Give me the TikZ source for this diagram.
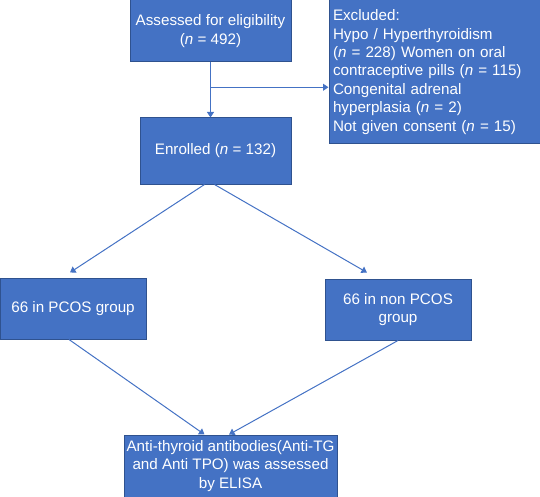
\documentclass[tikz,border=0pt]{standalone}
\usepackage{fontspec}
\setmainfont{Liberation Sans}
\usetikzlibrary{arrows.meta,calc}
\definecolor{boxfill}{HTML}{4472C4}
\definecolor{boxline}{HTML}{2F528F}
\begin{document}
\begin{tikzpicture}[x=1pt,y=-1pt,every node/.style={font=\fontsize{15.2}{18.4}\selectfont,text=white},
  blk/.style={draw=boxline,fill=boxfill,line width=1pt,inner sep=0pt,align=center},
  link/.style={draw=boxfill,line width=1pt,-{Triangle[width=7pt,length=5.5pt]}}]
\useasboundingbox (0,0) rectangle (540,497);
\node[blk,minimum width=161,minimum height=62] (assess) at (210.5,31) {Assessed for eligibility\\(\textit{n} = 492)};
\node[blk,minimum width=211,minimum height=144,text width=203,align=left] (excl) at (434.5,72) {Excluded:\\Hypo / Hyperthyroidism\\(\textit{n} = 228) Women on oral\\contraceptive pills (\textit{n} = 115)\\Congenital adrenal\\hyperplasia (\textit{n} = 2)\\Not given consent (\textit{n} = 15)};
\node[blk,minimum width=151,minimum height=66] (enr) at (215.5,151) {Enrolled (\textit{n} = 132)};
\node[blk,minimum width=146,minimum height=61] (pcos) at (73,308.5) {66 in PCOS group};
\node[blk,minimum width=146,minimum height=61] (nonpcos) at (398,309.5) {66 in non PCOS\\group};
\node[blk,minimum width=213,minimum height=62] (elisa) at (230.5,466) {Anti-thyroid antibodies(Anti-TG\\and Anti TPO) was assessed\\by ELISA};
% flow
\draw[link] (assess.south) -- (assess.south |- enr.north);
\coordinate (split) at ($(assess.south)!0.45!(assess.south |- enr.north)$);
\draw[link] (split) -- (split -| excl.west);
\draw[link] ([xshift=-11pt]enr.south) -- ([xshift=-3pt,yshift=5pt]pcos.north);
\draw[link] ([xshift=-1pt]enr.south) -- ([xshift=-31pt,yshift=6pt]nonpcos.north);
\draw[link] ([xshift=-4pt]pcos.south) -- ([xshift=-26pt]elisa.north);
\draw[link] (nonpcos.south) -- ([xshift=-1.5pt]elisa.north);
\end{tikzpicture}
\end{document}
